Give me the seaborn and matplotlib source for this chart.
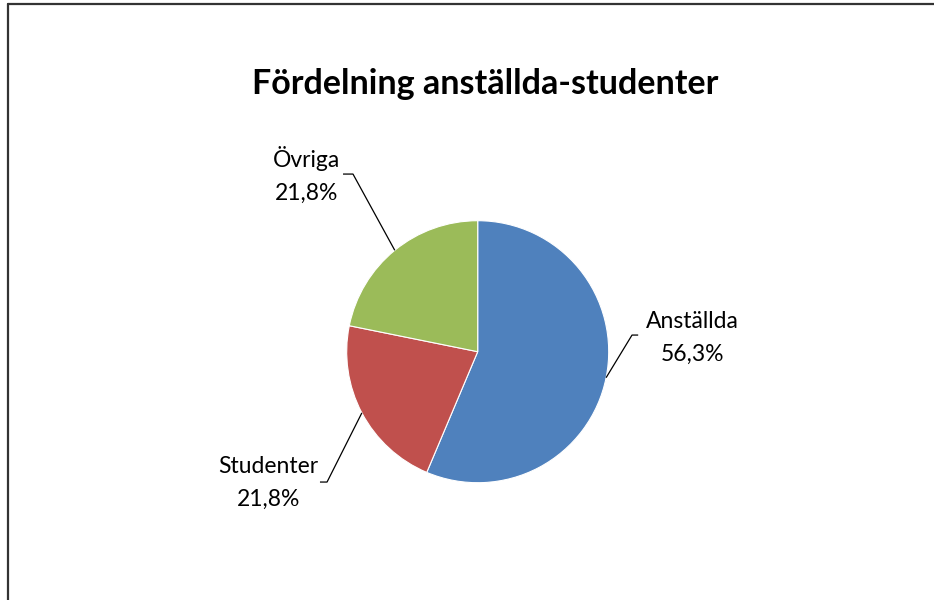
import matplotlib
matplotlib.use("Agg")
import matplotlib.pyplot as plt
import seaborn as sns
import numpy as np

categories = ['Anställda', 'Studenter', 'Övriga']
shares = [56.3, 21.8, 21.8]
colors = ['#4F81BD', '#C0504D', '#9BBB59']
title = 'Fördelning anställda-studenter'

# label layout (data units, pie radius = 1): elbow x, elbow y, end x, text x, text y
label_layout = {
    'Anställda': (1.178, 0.127, 1.225, 1.64, 0.105),
    'Studenter': (-1.150, -0.995, -1.204, -1.60, -1.002),
    'Övriga': (-0.952, 1.356, -1.028, -1.31, 1.349),
}

sns.set_style('white')
plt.rcParams['font.family'] = ['Lato', 'DejaVu Sans']

W, H = 934, 600
fig = plt.figure(figsize=(W / 100, H / 100), dpi=100)

cx, cy, r = 477.7, 351.7, 131
ax = fig.add_axes([(cx - r) / W, (H - cy - r) / H, 2 * r / W, 2 * r / H])
wedges, _ = ax.pie(shares, colors=colors, startangle=90, counterclock=False,
                   wedgeprops=dict(linewidth=0.8, edgecolor='white'))
ax.set_xlim(-1, 1)
ax.set_ylim(-1, 1)
ax.set_aspect('equal')
ax.axis('off')

for w, cat, val in zip(wedges, categories, shares):
    mid = np.deg2rad((w.theta1 + w.theta2) / 2)
    ex, ey = np.cos(mid), np.sin(mid)
    bx, by, endx, tx, ty = label_layout[cat]
    ax.plot([ex, bx, endx], [ey, by, by], color='black', lw=0.9,
            clip_on=False, solid_capstyle='butt')
    txt = f"{cat}\n{val:.1f}%".replace('.', ',')
    ax.text(tx, ty, txt, ha='center', va='center', fontsize=16.5,
            linespacing=1.68, color='black')

fig.text(485 / W, 1 - 84 / H, title, ha='center', va='center',
         fontsize=24.5, fontweight='bold', color='black')

# chart area border (cropped on right and bottom)
fig.add_artist(plt.Line2D([7.5 / W, 7.5 / W], [0, 1 - 3.5 / H],
                          transform=fig.transFigure, color='#333333', lw=1.6))
fig.add_artist(plt.Line2D([7.5 / W, 1], [1 - 3.5 / H, 1 - 3.5 / H],
                          transform=fig.transFigure, color='#333333', lw=1.6))

fig.savefig('out.png', dpi=100)
